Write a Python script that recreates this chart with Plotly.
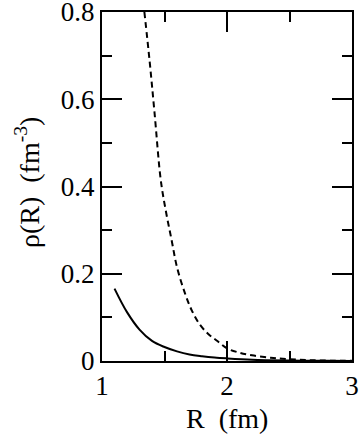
import plotly.graph_objects as go

# Densidade em função de R
r_solid = [1.10, 1.20, 1.30, 1.40, 1.50, 1.60, 1.70, 1.80, 1.90, 2.00, 2.20, 2.50, 2.80, 3.00]
rho_solid = [0.166, 0.112, 0.072, 0.046, 0.032, 0.022, 0.015, 0.011, 0.008, 0.006, 0.003, 0.0012, 0.0004, 0.0002]

r_dash = [1.339, 1.38, 1.42, 1.47, 1.51, 1.557, 1.60, 1.664, 1.72, 1.784, 1.85, 1.917, 2.00, 2.10, 2.20, 2.35, 2.50, 2.70, 3.00]
rho_dash = [0.80, 0.69, 0.57, 0.415, 0.345, 0.277, 0.215, 0.155, 0.115, 0.083, 0.062, 0.047, 0.029, 0.019, 0.013, 0.0075, 0.004, 0.0015, 0.0003]

fig = go.Figure()

# curva contínua
fig.add_trace(go.Scatter(x=r_solid, y=rho_solid, mode='lines',
                         line=dict(color='black', width=2, shape='spline'), showlegend=False))

# curva tracejada
fig.add_trace(go.Scatter(x=r_dash, y=rho_dash, mode='lines',
                         line=dict(color='black', width=2, dash='6px,4px', shape='spline'), showlegend=False))

fig.update_layout(width=360, height=436,
                  margin=dict(l=102, r=8, t=12, b=75),
                  plot_bgcolor='white', paper_bgcolor='white',
                  font=dict(family="Liberation Serif", size=27, color='black'))

# títulos dos eixos como anotações (posição mais precisa)
fig.add_annotation(text='R  (fm)', xref='paper', yref='paper', x=0.5, y=-0.166,
                   xanchor='center', yanchor='middle', showarrow=False,
                   font=dict(size=28))
fig.add_annotation(text='ρ(R)  (fm<sup>-3</sup>)', xref='paper', yref='paper', x=-0.30, y=0.51,
                   xanchor='center', yanchor='middle', showarrow=False, textangle=-90,
                   font=dict(size=28))

fig.update_xaxes(range=[1, 3], tickvals=[1, 2, 3], ticks='inside', ticklen=20, tickwidth=2,
                 minor=dict(dtick=0.5, ticklen=10, tickwidth=2, ticks='inside', tickcolor='black'),
                 showline=True, linecolor='black', linewidth=2, mirror='ticks',
                 showgrid=False, zeroline=False, tickcolor='black', automargin=False,
                 ticklabeloverflow='allow')

fig.update_yaxes(range=[0, 0.8], tickvals=[0, 0.2, 0.4, 0.6, 0.8], ticktext=['0', '0.2', '0.4', '0.6', '0.8'],
                 ticks='inside', ticklen=20, tickwidth=2,
                 minor=dict(dtick=0.1, ticklen=10, tickwidth=2, ticks='inside', tickcolor='black'),
                 showline=True, linecolor='black', linewidth=2, mirror='ticks',
                 showgrid=False, zeroline=False, tickcolor='black', automargin=False,
                 ticklabeloverflow='allow')

fig.write_html("out.html", config={'displayModeBar': False})

# remove a margem padrão do body
with open("out.html", encoding="utf-8") as f:
    html = f.read()
html = html.replace("<head>", "<head><style>body{margin:0;overflow:hidden}</style>", 1)
with open("out.html", "w", encoding="utf-8") as f:
    f.write(html)
